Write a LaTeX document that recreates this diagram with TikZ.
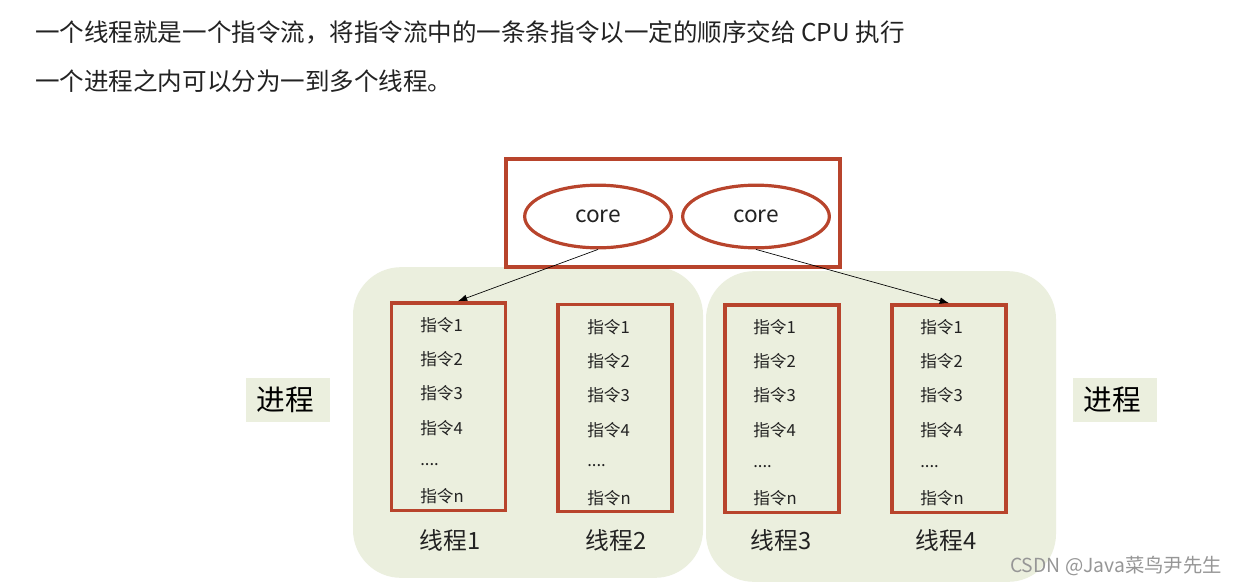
\documentclass[tikz,border=0pt]{standalone}
\usepackage{fontspec}
\setmainfont{Noto Sans CJK SC}
\usetikzlibrary{shapes.geometric,arrows.meta}
\definecolor{redline}{RGB}{184,68,44}
\definecolor{procbg}{RGB}{235,239,222}
\definecolor{txt}{RGB}{34,34,34}
\definecolor{wm}{RGB}{150,150,150}
\tikzset{
  px/.style={x=0.75pt,y=-0.75pt},
  cpubox/.style={draw=redline,line width=2.4pt,minimum width=250.5pt,minimum height=81pt,inner sep=0pt},
  corenode/.style={ellipse,draw=redline,line width=2.4pt,minimum width=110pt,minimum height=47pt,inner sep=0pt,font=\fontsize{17}{20}\selectfont,text=txt},
  procbox/.style={fill=procbg,rounded corners=36pt,minimum width=262.5pt,minimum height=233pt,inner sep=0pt},
  threadbox/.style={draw=redline,line width=2.5pt,minimum width=85.5pt,minimum height=155.5pt,inner sep=0pt},
  instr/.style={anchor=west,inner sep=0pt,font=\fontsize{12.5}{14}\selectfont,text=txt},
  tlabel/.style={inner sep=0pt,font=\fontsize{17.8}{20}\selectfont,text=txt},
  plabelbg/.style={fill=procbg,minimum width=63pt,minimum height=33pt,inner sep=0pt},
  plabel/.style={inner sep=0pt,font=\fontsize{21.5}{24}\selectfont,text=black},
  headtxt/.style={anchor=west,inner sep=0pt,font=\fontsize{18.4}{22}\selectfont,text=txt},
  conn/.style={-{Latex[length=7pt,width=5pt]},line width=0.5pt,black},
}
\begin{document}
\begin{tikzpicture}[px]
\useasboundingbox (0,0) rectangle (1237,585);
\fill[white] (0,0) rectangle (1237,585);
% header text
\node[headtxt] (h1) at (35,32) {一个线程就是一个指令流，将指令流中的一条条指令以一定的顺序交给 CPU 执行};
\node[headtxt] (h2) at (35,81) {一个进程之内可以分为一到多个线程。};
% process backgrounds
\node[procbox] (p1) at (528,422.5) {};
\node[procbox] (p2) at (881,426.5) {};
% cpu
\node[cpubox] (cpu) at (673,213) {};
\node[corenode] (c1) at (598,216.5) {\raisebox{-1.5pt}{core}};
\node[corenode] (c2) at (756,216.5) {\raisebox{-1.5pt}{core}};
% threads
\foreach \n/\cx/\cy/\tx in {1/448.5/406.5/420, 2/615/408/587, 3/782/408.5/753, 4/949/408.5/920}{
  \node[threadbox] (t\n) at (\cx,\cy) {};
  \node[instr] (t\n i1) at (\tx,\cy-81) {指令1};
  \node[instr] (t\n i2) at (\tx,\cy-47) {指令2};
  \node[instr] (t\n i3) at (\tx,\cy-13) {指令3};
  \node[instr] (t\n i4) at (\tx,\cy+22) {指令4};
  \node[instr] (t\n i5) at (\tx,\cy+58) {....};
  \node[instr] (t\n i6) at (\tx,\cy+90) {指令n};
}
\node[tlabel] (l1) at (450,540) {线程1};
\node[tlabel] (l2) at (616,540) {线程2};
\node[tlabel] (l3) at (781,540) {线程3};
\node[tlabel] (l4) at (946,540) {线程4};
% process labels
\node[plabelbg] (plb) at (288,400) {};
\node[plabel] (pl) at (285,400) {进程};
\node[plabelbg] (prb) at (1115,400) {};
\node[plabel] (pr) at (1112,400) {进程};
% connectors
\draw[conn] (c1.south) -- ([xshift=7pt]t1.north);
\draw[conn] (c2.south) -- (t4.north);
% watermark
\node[inner sep=0pt,font=\fontsize{14.5}{16}\selectfont,text=wm,anchor=east] (wmk) at (1222,566) {CSDN @Java菜鸟尹先生};
\end{tikzpicture}
\end{document}
